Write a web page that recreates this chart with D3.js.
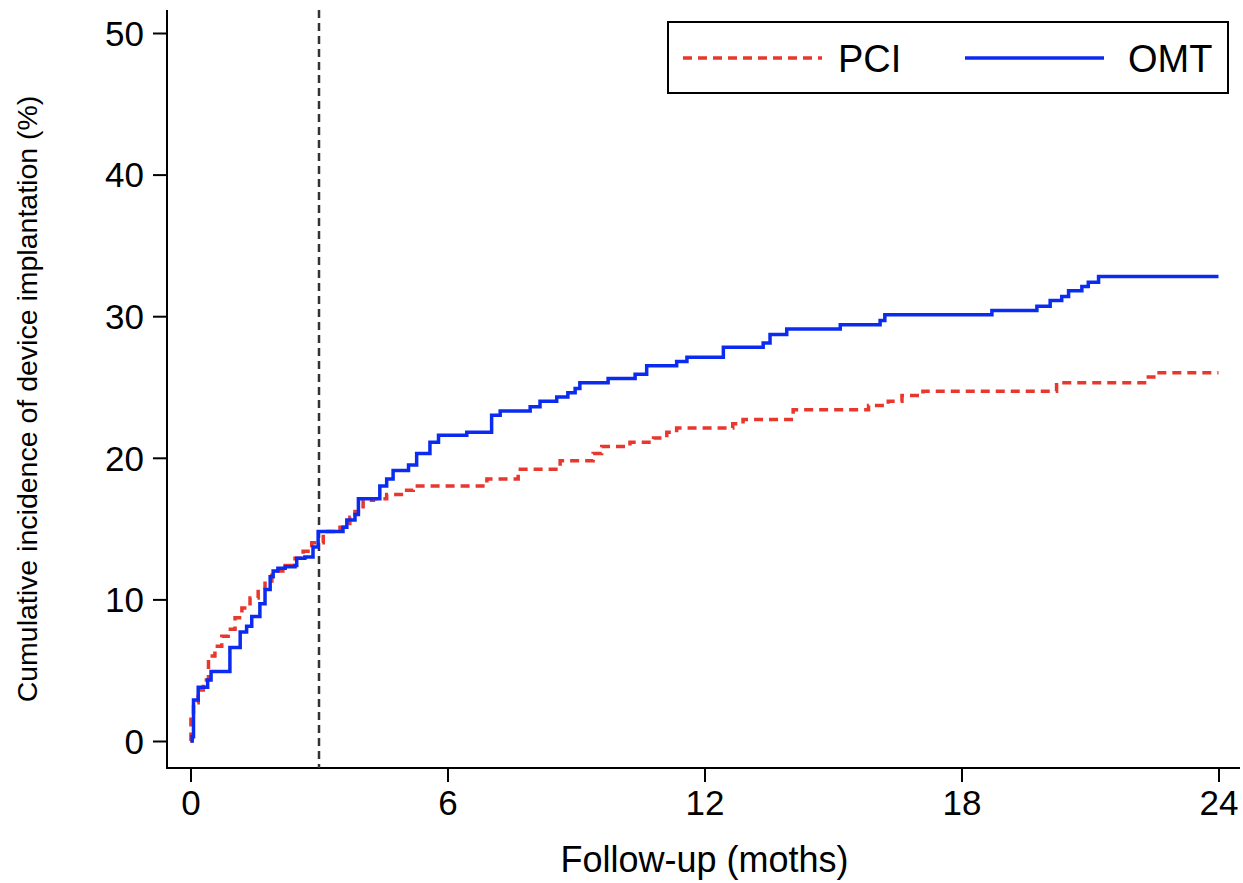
<!DOCTYPE html>
<html lang="en">
<head>
<meta charset="UTF-8">
<title>Cumulative incidence of device implantation</title>
<style>
  body { margin: 0; background: #fff; }
  svg { display: block; font-family: "Liberation Sans", Arial, sans-serif; }
  .tick text { fill: #000; }
</style>
</head>
<body>
<svg width="1243" height="883"></svg>
<script src="https://d3js.org/d3.v7.min.js"></script>
<script>
// Kaplan-Meier style step points: month, cumulative %
const pciMonths = [0, 0.01, 0.07, 0.18, 0.30, 0.42, 0.57, 0.73, 0.88, 1.04, 1.20, 1.39, 1.58, 1.74, 1.90,
  2.21, 2.44, 2.63, 2.83, 3.10, 3.49, 3.72, 3.84, 4.03, 4.27, 4.58, 4.97, 5.20, 6.92, 7.65, 8.63,
  9.40, 9.60, 10.26, 10.81, 11.12, 11.35, 12.66, 12.90, 14.07, 15.83, 16.29, 16.61, 17.10, 20.22,
  22.32, 22.56, 24];
const pciValues = [0, 1.7, 2.7, 3.6, 4.3, 6.0, 6.7, 7.4, 7.9, 8.7, 9.4, 10.1, 10.7, 11.3, 12.0,
  12.4, 12.9, 13.4, 14.0, 14.8, 15.1, 15.8, 16.2, 17.0, 17.1, 17.4, 17.7, 18.0, 18.5, 19.2, 19.8,
  20.3, 20.8, 21.1, 21.4, 21.8, 22.1, 22.4, 22.7, 23.4, 23.7, 24.0, 24.4, 24.7, 25.3,
  25.7, 26.0, 26.0];

const omtMonths = [0, 0.04, 0.07, 0.18, 0.40, 0.48, 0.92, 1.16, 1.31, 1.43, 1.62, 1.74, 1.86, 1.93, 2.04,
  2.21, 2.44, 2.48, 2.67, 2.86, 2.98, 3.56, 3.65, 3.84, 3.92, 4.42, 4.58, 4.73, 5.09, 5.28, 5.59,
  5.79, 6.45, 7.03, 7.23, 7.93, 8.16, 8.55, 8.81, 8.98, 9.09, 9.75, 10.38, 10.65, 11.35, 11.59,
  12.44, 13.37, 13.53, 13.92, 15.17, 16.10, 16.21, 18.71, 19.76, 20.07, 20.34, 20.50, 20.81,
  20.96, 21.20, 24];
const omtValues = [0, 0.3, 2.9, 3.8, 4.3, 4.9, 6.6, 7.7, 8.1, 8.8, 9.7, 10.7, 11.6, 12.0, 12.2,
  12.3, 12.4, 12.9, 13.0, 13.7, 14.8, 15.1, 15.6, 16.0, 17.1, 18.0, 18.5, 19.1, 19.5, 20.3, 21.1,
  21.6, 21.8, 23.0, 23.3, 23.6, 24.0, 24.3, 24.6, 24.9, 25.3, 25.6, 25.9, 26.5, 26.8, 27.1,
  27.8, 28.1, 28.7, 29.1, 29.4, 29.7, 30.1, 30.4, 30.7, 31.1, 31.4, 31.8, 32.1,
  32.4, 32.8, 32.8];

const xTicks = [0, 6, 12, 18, 24];
const yTicks = [0, 10, 20, 30, 40, 50];
const landmark = 3;
const seriesNames = ["PCI", "OMT"];

const svg = d3.select("svg");

const x = d3.scaleLinear().domain([0, 24]).range([190.5, 1218.5]);
const y = d3.scaleLinear().domain([0, 50]).range([741, 33]);

const axisX = 167, axisY = 768;

// y axis
const gy = svg.append("g")
  .attr("transform", `translate(${axisX},0)`)
  .call(d3.axisLeft(y).tickValues(yTicks).tickSize(14).tickPadding(9));
gy.select(".domain").remove();
gy.selectAll(".tick line").attr("stroke", "#000").attr("stroke-width", 2);
gy.selectAll(".tick text").style("font-size", "35px").attr("dy", "0.35em");

// x axis
const gx = svg.append("g")
  .attr("transform", `translate(0,${axisY})`)
  .call(d3.axisBottom(x).tickValues(xTicks).tickSize(14).tickPadding(8));
gx.select(".domain").remove();
gx.selectAll(".tick line").attr("stroke", "#000").attr("stroke-width", 2);
gx.selectAll(".tick text").style("font-size", "35px");

// spines
svg.append("line").attr("x1", axisX).attr("x2", axisX).attr("y1", 10).attr("y2", axisY + 1)
  .attr("stroke", "#000").attr("stroke-width", 2);
svg.append("line").attr("x1", axisX - 1).attr("x2", 1240).attr("y1", axisY).attr("y2", axisY)
  .attr("stroke", "#000").attr("stroke-width", 2);

// landmark line at 3 months
svg.append("line")
  .attr("x1", x(landmark)).attr("x2", x(landmark))
  .attr("y1", 10).attr("y2", axisY)
  .attr("stroke", "#333").attr("stroke-width", 2.5)
  .attr("stroke-dasharray", "8,5");

// curves
const line = d3.line()
  .x(d => x(d[0]))
  .y(d => y(d[1]))
  .curve(d3.curveStepAfter);

svg.append("path")
  .datum(d3.zip(pciMonths, pciValues))
  .attr("fill", "none")
  .attr("stroke", "#e8372c")
  .attr("stroke-width", 3.5)
  .attr("stroke-dasharray", "9,6")
  .attr("d", line);

svg.append("path")
  .datum(d3.zip(omtMonths, omtValues))
  .attr("fill", "none")
  .attr("stroke", "#0b2cf0")
  .attr("stroke-width", 3.5)
  .attr("d", line);

// axis titles
svg.append("text")
  .attr("x", x(12)).attr("y", 872)
  .attr("text-anchor", "middle")
  .style("font-size", "36px")
  .text("Follow-up (moths)");

svg.append("text")
  .attr("transform", `translate(37,${(10 + axisY) / 2 + 10}) rotate(-90)`)
  .attr("text-anchor", "middle")
  .style("font-size", "28.5px")
  .text("Cumulative incidence of device implantation (%)");

// legend
const lg = svg.append("g");
lg.append("rect")
  .attr("x", 668).attr("y", 22).attr("width", 560).attr("height", 71)
  .attr("fill", "#fff").attr("stroke", "#000").attr("stroke-width", 2);
lg.append("line").attr("x1", 683).attr("x2", 822).attr("y1", 58).attr("y2", 58)
  .attr("stroke", "#e8372c").attr("stroke-width", 3.5).attr("stroke-dasharray", "9,6");
lg.append("line").attr("x1", 965).attr("x2", 1104).attr("y1", 58).attr("y2", 58)
  .attr("stroke", "#0b2cf0").attr("stroke-width", 3.5);
lg.append("text").attr("x", 838).attr("y", 58).attr("dy", "0.36em")
  .style("font-size", "38px").text(seriesNames[0]);
lg.append("text").attr("x", 1128).attr("y", 58).attr("dy", "0.36em")
  .style("font-size", "38px").text(seriesNames[1]);
</script>
</body>
</html>
